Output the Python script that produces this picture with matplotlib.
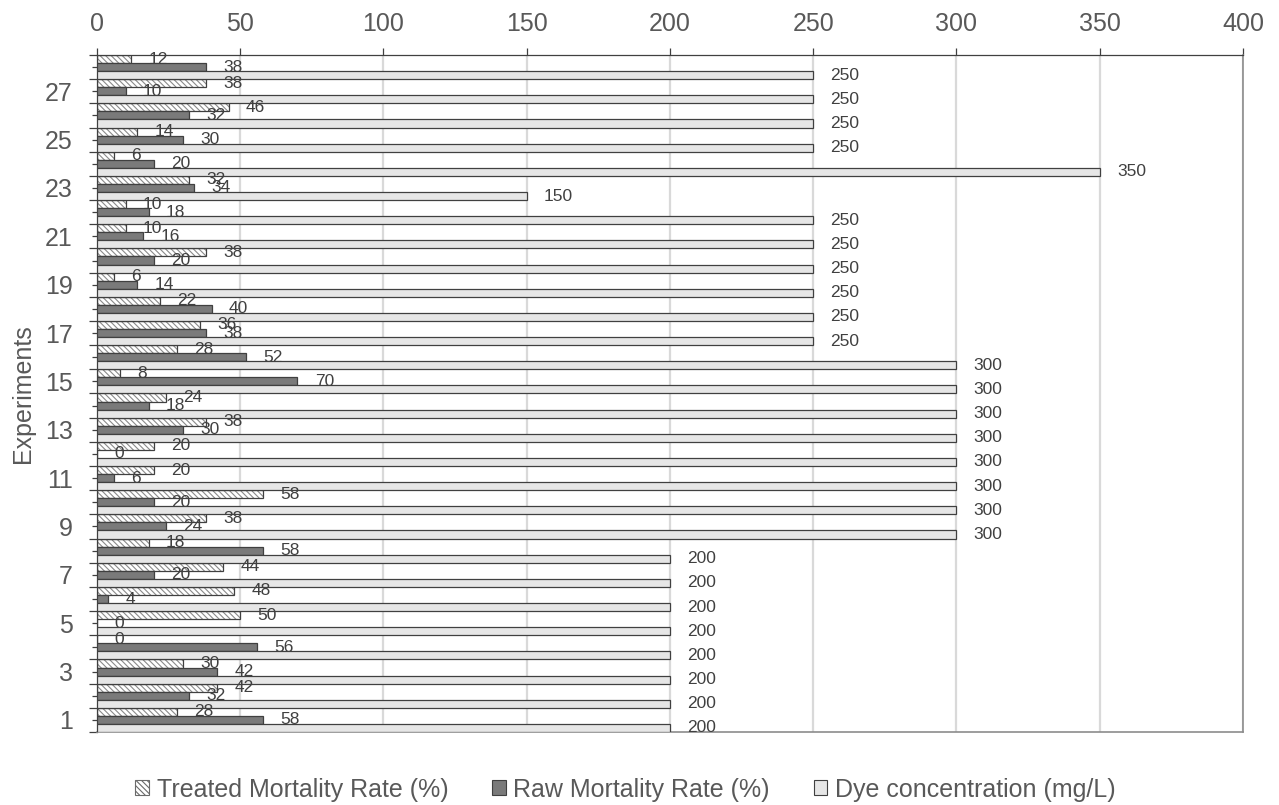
import numpy as np
import matplotlib.pyplot as plt
from matplotlib.patches import Patch
from matplotlib.ticker import FixedLocator

plt.rcParams['font.family'] = ['Liberation Sans', 'DejaVu Sans']
plt.rcParams['hatch.linewidth'] = 0.8

# experiment numbers and measured values
experiments = np.arange(1, 29)
treated = [28, 42, 30, 0, 50, 48, 44, 18, 38, 58, 20, 20, 38, 24,
           8, 28, 36, 22, 6, 38, 10, 10, 32, 6, 14, 46, 38, 12]
raw = [58, 32, 42, 56, 0, 4, 20, 58, 24, 20, 6, 0, 30, 18,
       70, 52, 38, 40, 14, 20, 16, 18, 34, 20, 30, 32, 10, 38]
dye = [200, 200, 200, 200, 200, 200, 200, 200, 300, 300, 300, 300, 300, 300,
       300, 300, 250, 250, 250, 250, 250, 250, 150, 350, 250, 250, 250, 250]

h = 1 / 3
edge = '#404040'

fig = plt.figure(figsize=(12.79, 8.05), dpi=100)
ax = fig.add_axes([0.0758, 0.0907, 0.896, 0.841])

# treated: hatched fill, then a plain outline on top
ax.barh(experiments + h, treated, height=h, color='white', edgecolor='#8a8a8a',
        hatch='\\\\\\\\\\\\', linewidth=0, zorder=2)
ax.barh(experiments + h, treated, height=h, fill=False, edgecolor=edge,
        linewidth=0.9, zorder=3)
ax.barh(experiments, raw, height=h, color='#7a7a7a', edgecolor=edge,
        linewidth=0.9, zorder=3)
ax.barh(experiments - h, dye, height=h, color='#e6e6e6', edgecolor=edge,
        linewidth=0.9, zorder=3)

for ys, vals in [(experiments + h, treated), (experiments, raw), (experiments - h, dye)]:
    for y, v in zip(ys, vals):
        ax.annotate(str(v), (v, y), xytext=(12.5, 0), textcoords='offset points',
                    ha='left', va='center', fontsize=12.5, color=edge, zorder=4)

ax.set_xlim(0, 400)
ax.set_ylim(0.5, 28.5)

ax.xaxis.tick_top()
ax.set_xticks(np.arange(0, 401, 50))
ax.tick_params(axis='x', length=5, width=0.9, color=edge, labelsize=18,
               labelcolor='#595959', pad=9)
ax.grid(axis='x', color='#d9d9d9', linewidth=1.6, zorder=0)
ax.set_axisbelow(True)

# category ticks between groups, labels on odd experiments
ax.yaxis.set_major_locator(FixedLocator(np.arange(0.5, 29, 1)))
ax.set_yticklabels([''] * 29)
ax.yaxis.set_minor_locator(FixedLocator(experiments))
ax.set_yticklabels([str(e) if e % 2 == 1 else '' for e in experiments], minor=True)
ax.tick_params(axis='y', which='major', length=6, width=0.9, color=edge)
ax.tick_params(axis='y', which='minor', length=3.6, width=0.9, color=edge,
               labelsize=18, labelcolor='#595959', pad=14)

ax.set_ylabel('Experiments', fontsize=18, color='#595959', labelpad=7)

for side in ['top', 'left']:
    ax.spines[side].set_color(edge)
    ax.spines[side].set_linewidth(0.9)
for side in ['right', 'bottom']:
    ax.spines[side].set_color('#8c8c8c')
    ax.spines[side].set_linewidth(1.2)

handles = [
    Patch(facecolor='white', edgecolor='#6a6a6a', hatch='\\\\\\\\\\\\', linewidth=0.8),
    Patch(facecolor='#7a7a7a', edgecolor=edge, linewidth=0.8),
    Patch(facecolor='#e6e6e6', edgecolor=edge, linewidth=0.8),
]
labels = ['Treated Mortality Rate (%)', 'Raw Mortality Rate (%)', 'Dye concentration (mg/L)']
leg = fig.legend(handles, labels, loc='center', bbox_to_anchor=(0.489, 0.019), ncol=3,
                 frameon=False, fontsize=18, handlelength=0.55, handleheight=0.55,
                 handletextpad=0.3, columnspacing=1.75, labelcolor='#595959')

fig.savefig('out.png', dpi=100)
